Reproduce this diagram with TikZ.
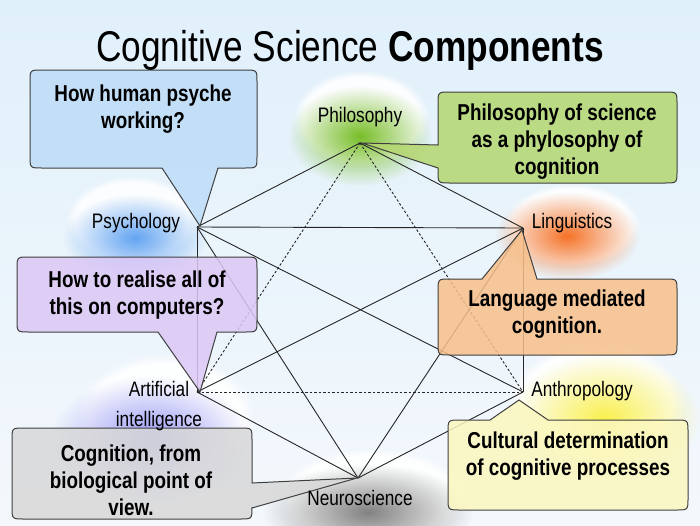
\documentclass[tikz,border=0pt]{standalone}
\usepackage{fontspec}
\setmainfont{Liberation Sans}[FakeStretch=0.82]
\usetikzlibrary{fadings}
\definecolor{bgtop}{RGB}{224,240,251}
\definecolor{bgbot}{RGB}{244,248,252}
\definecolor{cblue}{RGB}{190,220,248}
\definecolor{cgreen}{RGB}{180,214,112}
\definecolor{cpurple}{RGB}{220,200,246}
\definecolor{corange}{RGB}{247,192,138}
\definecolor{cyellow}{RGB}{251,247,192}
\definecolor{cgray}{RGB}{216,216,216}
\definecolor{gphil}{RGB}{120,190,40}
\definecolor{gpsy}{RGB}{100,165,242}
\definecolor{gling}{RGB}{245,115,40}
\definecolor{gai}{RGB}{150,150,245}
\definecolor{ganth}{RGB}{250,240,80}
\definecolor{gneuro}{RGB}{130,130,130}
\tikzfading[name=glowfade, inner color=transparent!0, outer color=transparent!100]
\tikzset{
  edge/.style={line width=0.9pt, draw=black!85},
  dashedge/.style={edge, dash pattern=on 2.5pt off 2pt},
  callout/.style={draw=black!75, line width=1pt, fill opacity=0.85},
  ctext/.style={font=\fontsize{23}{27}\selectfont\bfseries, align=center, inner sep=0pt},
  lab/.style={font=\fontsize{21}{24}\selectfont, inner sep=0pt},
  halo/.style={fill=white, fill opacity=0.9, path fading=circle with fuzzy edge 15 percent},
  spot/.style={path fading=glowfade},
}
\begin{document}
\begin{tikzpicture}[x=1pt,y=-1pt]
\useasboundingbox (0,0) rectangle (700,525);
\shade[top color=bgtop, bottom color=bgbot] (0,0) rectangle (700,525);

% glows
\fill[halo] (361,118) ellipse (68 and 48);
\fill[spot, gphil] (360,136) ellipse (72 and 50);
\fill[halo] (132,220) ellipse (66 and 44);
\fill[spot, gpsy] (135,238) ellipse (72 and 44);
\fill[halo] (572,225) ellipse (68 and 42);
\fill[spot, gling] (567,236) ellipse (72 and 44);
\fill[halo] (165,418) ellipse (90 and 64);
\fill[spot, gai] (150,440) ellipse (100 and 64);
\fill[halo] (597,402) ellipse (88 and 60);
\fill[spot, ganth] (605,418) ellipse (95 and 64);
\fill[halo] (372,496) ellipse (94 and 48);
\fill[spot, gneuro] (368,512) ellipse (105 and 48);

% vertices
\coordinate (phil) at (360,143);
\coordinate (psych) at (197,227);
\coordinate (ling) at (523,228);
\coordinate (ai) at (197,392);
\coordinate (anth) at (523,392);
\coordinate (neuro) at (358,478);

% edges
\draw[edge] (phil) -- (psych);
\draw[edge] (phil) -- (ling);
\draw[edge] (psych) -- (ling);
\draw[edge] (psych) -- (ai);
\draw[edge] (ling) -- (anth);
\draw[edge] (ai) -- (neuro);
\draw[edge] (anth) -- (neuro);
\draw[edge] (psych) -- (anth);
\draw[edge] (ai) -- (ling);
\draw[edge] (psych) -- (neuro);
\draw[edge] (ling) -- (neuro);
\draw[dashedge] (phil) -- (ai);
\draw[dashedge] (phil) -- (anth);
\draw[dashedge] (ai) -- (anth);

% callouts
\draw[callout, fill=cblue] (42,70) -- (245,70) .. controls (257,70) .. (257,82) -- (257,156) .. controls (257,168) .. (245,168) -- (218,168) -- (200,226) -- (162,168) -- (42,168) .. controls (30,168) .. (30,156) -- (30,82) .. controls (30,70) .. (42,70) -- cycle;
\draw[callout, fill=cgreen] (450,92) -- (665,92) .. controls (677,92) .. (677,104) -- (677,171) .. controls (677,183) .. (665,183) -- (450,183) .. controls (438,183) .. (438,171) -- (438,168) -- (362,143) -- (438,145) -- (438,104) .. controls (438,92) .. (450,92) -- cycle;
\draw[callout, fill=cpurple] (29,257) -- (245,257) .. controls (257,257) .. (257,269) -- (257,320) .. controls (257,332) .. (245,332) -- (217,332) -- (200,392) -- (158,332) -- (29,332) .. controls (17,332) .. (17,320) -- (17,269) .. controls (17,257) .. (29,257) -- cycle;
\draw[callout, fill=corange] (450,279) -- (482,279) -- (522,230) -- (537,279) -- (665,279) .. controls (677,279) .. (677,291) -- (677,343) .. controls (677,355) .. (665,355) -- (450,355) .. controls (438,355) .. (438,343) -- (438,291) .. controls (438,279) .. (450,279) -- cycle;
\draw[callout, fill=cyellow] (460,420) -- (490,420) -- (519,400) -- (548,420) -- (676,420) .. controls (688,420) .. (688,432) -- (688,498) .. controls (688,510) .. (676,510) -- (460,510) .. controls (448,510) .. (448,498) -- (448,432) .. controls (448,420) .. (460,420) -- cycle;
\draw[callout, fill=cgray] (24,428) -- (240,428) .. controls (252,428) .. (252,440) -- (252,483) -- (357,478) -- (252,508) -- (252,507) .. controls (252,519) .. (240,519) -- (24,519) .. controls (12,519) .. (12,507) -- (12,440) .. controls (12,428) .. (24,428) -- cycle;

% title
\node[anchor=base, inner sep=0pt, font=\fontsize{43}{48}\selectfont] (title) at (350,61) {Cognitive Science \textbf{Components}};

% callout texts
\node[ctext] (tblue) at (143,109) {How human psyche\\working?};
\node[ctext] (tgreen) at (557,142) {Philosophy of science\\as a phylosophy of\\cognition};
\node[ctext] (tpurple) at (137,295) {How to realise all of\\this on computers?};
\node[ctext] (torange) at (557,314) {Language mediated\\cognition.};
\node[ctext] (tyellow) at (568,456) {Cultural determination\\of cognitive processes};
\node[ctext] (tgray) at (131,480) {Cognition, from\\biological point of\\view.};

% labels
\node[lab] (lphil) at (360,117) {Philosophy};
\node[lab] (lpsych) at (136,223) {Psychology};
\node[lab] (lling) at (572,223) {Linguistics};
\node[lab, align=center, font=\fontsize{21}{30}\selectfont] (lai) at (159,406) {Artificial\\intelligence};
\node[lab] (lanth) at (582,391) {Anthropology};
\node[lab] (lneuro) at (360,498) {Neuroscience};
\end{tikzpicture}
\end{document}
